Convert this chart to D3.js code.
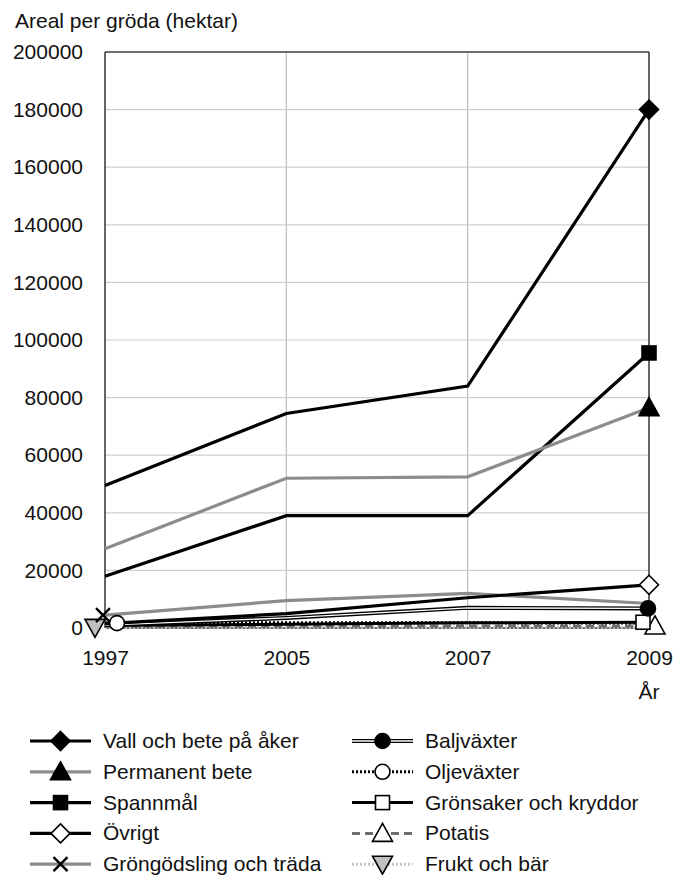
<!DOCTYPE html>
<html><head><meta charset="utf-8">
<script src="https://cdn.jsdelivr.net/npm/d3@7"></script>
<style>
body{margin:0;background:#fff;}
text{font-family:"Liberation Sans",Arial,Helvetica,sans-serif;fill:#111;}
</style></head>
<body>
<svg id="c" width="677" height="875"></svg>
<script>
const years = ["1997","2005","2007","2009"];
const yTicks = [0,20000,40000,60000,80000,100000,120000,140000,160000,180000,200000];
const seriesNames = ["Vall och bete på åker","Permanent bete","Spannmål","Övrigt","Gröngödsling och träda","Baljväxter","Oljeväxter","Grönsaker och kryddor","Potatis","Frukt och bär"];
const vall = [49500,74500,84000,180000];
const permanent = [27500,52000,52500,76500];
const spannmal = [18000,39000,39000,95500];
const ovrigt = [1500,5000,10500,15000];
const grongodsling = [4500,9500,12000,8500];
const baljvaxter = [1000,3500,7000,6800];
const oljevaxter = [1700,1800,1800,1700];
const gronsaker = [900,1300,1800,2000];
const potatis = [600,700,700,700];
const frukt = [200,300,300,300];
const values = [vall,permanent,spannmal,ovrigt,grongodsling,baljvaxter,oljevaxter,gronsaker,potatis,frukt];

// styles (not data)
const styles = [
  {stroke:"#000",w:3.2,dash:null,marker:"diamond",fill:"#000",mi:3,dx:0},
  {stroke:"#8c8c8c",w:3.2,dash:null,marker:"triangle",fill:"#000",mi:3,dx:0},
  {stroke:"#000",w:3.2,dash:null,marker:"square",fill:"#000",mi:3,dx:0},
  {stroke:"#000",w:3.2,dash:null,marker:"diamond",fill:"#fff",mi:3,dx:0},
  {stroke:"#8c8c8c",w:3.2,dash:null,marker:"cross",fill:"none",mi:0,dx:-2},
  {stroke:"#000",w:4,dash:null,double:true,marker:"circle",fill:"#000",mi:3,dx:-1},
  {stroke:"#000",w:3,dash:"2,2",marker:"circle",fill:"#fff",mi:0,dx:12},
  {stroke:"#000",w:3,dash:null,marker:"square",fill:"#fff",mi:3,dx:-6},
  {stroke:"#6e6e6e",w:3,dash:"8,5",marker:"triangle",fill:"#fff",mi:3,dx:6},
  {stroke:"#c4c4c4",w:3,dash:"2,2",marker:"triangleDown",fill:"#c0c0c0",mi:0,dx:-10}
];

const FS = "21px";
const svg = d3.select("#c");
const L=105,R=649,T=52,B=628;
const x = d3.scalePoint().domain(years).range([L,R]);
const y = d3.scaleLinear().domain([0,200000]).range([B,T]);

// gridlines
svg.append("g").selectAll("line").data(yTicks).join("line")
  .attr("x1",L).attr("x2",R).attr("y1",d=>y(d)).attr("y2",d=>y(d))
  .attr("stroke","#cfcfcf").attr("stroke-width",1.2);
svg.append("g").selectAll("line").data(years.slice(1,3)).join("line")
  .attr("x1",d=>x(d)).attr("x2",d=>x(d)).attr("y1",T).attr("y2",B)
  .attr("stroke","#bdbdbd").attr("stroke-width",1.2);
// frame
svg.append("line").attr("x1",L).attr("x2",R).attr("y1",T).attr("y2",T).attr("stroke","#444").attr("stroke-width",1.5);
svg.append("line").attr("x1",L).attr("x2",R).attr("y1",B).attr("y2",B).attr("stroke","#444").attr("stroke-width",1.5);
svg.append("line").attr("x1",L).attr("x2",L).attr("y1",T).attr("y2",B).attr("stroke","#333").attr("stroke-width",1.5);
svg.append("line").attr("x1",R).attr("x2",R).attr("y1",T).attr("y2",B).attr("stroke","#333").attr("stroke-width",1.5);

// axes labels
const yAxis = d3.axisLeft(y).tickValues(yTicks).tickSize(0).tickPadding(22).tickFormat(d3.format("d"));
const gy = svg.append("g").attr("transform",`translate(${L},0)`).call(yAxis);
gy.select(".domain").remove();
gy.selectAll("text").style("font-size",FS).attr("font-family","Liberation Sans, Arial, sans-serif").attr("fill","#111");
const xAxis = d3.axisBottom(x).tickSize(0).tickPadding(22);
const gx = svg.append("g").attr("transform",`translate(0,${B})`).call(xAxis);
gx.select(".domain").remove();
gx.selectAll("text").style("font-size",FS).attr("font-family","Liberation Sans, Arial, sans-serif").attr("fill","#111");

svg.append("text").attr("x",15).attr("y",28).style("font-size",FS).text("Areal per gröda (hektar)");
svg.append("text").attr("x",R).attr("y",699).attr("text-anchor","middle").style("font-size",FS).text("År");

const line = d3.line().x((d,i)=>x(years[i])).y(d=>y(d));

function drawLine(g, st, dAttr){
  if(st.double){
    g.append("path").attr("d",dAttr).attr("fill","none").attr("stroke","#000").attr("stroke-width",st.w);
    g.append("path").attr("d",dAttr).attr("fill","none").attr("stroke","#fff").attr("stroke-width",1.4);
  } else {
    g.append("path").attr("d",dAttr).attr("fill","none").attr("stroke",st.stroke)
      .attr("stroke-width",st.w).attr("stroke-dasharray",st.dash);
  }
}
function drawMarker(g, st, cx, cy){
  const m = st.marker;
  let el;
  if(m==="diamond"){
    const s=9.5;
    el=g.append("path").attr("d",`M${cx},${cy-s}L${cx+s},${cy}L${cx},${cy+s}L${cx-s},${cy}Z`);
  } else if(m==="triangle"){
    const s=10;
    el=g.append("path").attr("d",`M${cx},${cy-s}L${cx+s},${cy+s*0.8}L${cx-s},${cy+s*0.8}Z`);
  } else if(m==="triangleDown"){
    const s=10;
    el=g.append("path").attr("d",`M${cx},${cy+s}L${cx+s},${cy-s*0.8}L${cx-s},${cy-s*0.8}Z`);
  } else if(m==="square"){
    const s=7;
    el=g.append("rect").attr("x",cx-s).attr("y",cy-s).attr("width",2*s).attr("height",2*s);
  } else if(m==="circle"){
    el=g.append("circle").attr("cx",cx).attr("cy",cy).attr("r",7.5);
  } else if(m==="cross"){
    const s=7;
    g.append("path").attr("d",`M${cx-s},${cy-s}L${cx+s},${cy+s}M${cx+s},${cy-s}L${cx-s},${cy+s}`)
      .attr("stroke","#000").attr("stroke-width",2.4).attr("fill","none");
    return;
  }
  el.attr("fill",st.fill).attr("stroke","#000").attr("stroke-width",1.6);
}

const plot = svg.append("g");
for(let k=values.length-1;k>=0;k--){
  drawLine(plot.append("g"), styles[k], line(values[k]));
}
const mk = svg.append("g");
for(let k=values.length-1;k>=0;k--){
  const st=styles[k];
  drawMarker(mk, st, x(years[st.mi])+st.dx, y(values[k][st.mi]));
}

// legend
const leg = svg.append("g");
seriesNames.forEach((name,k)=>{
  const col = k<5?0:1, row = k%5;
  const lx = col===0?30:352, ly = 741 + row*30.8;
  const g = leg.append("g");
  drawLine(g, styles[k], `M${lx},${ly}L${lx+61},${ly}`);
  drawMarker(g, styles[k], lx+30.5, ly);
  g.append("text").attr("x",lx+73).attr("y",ly+7).style("font-size",FS).text(name);
});
</script>
</body></html>
